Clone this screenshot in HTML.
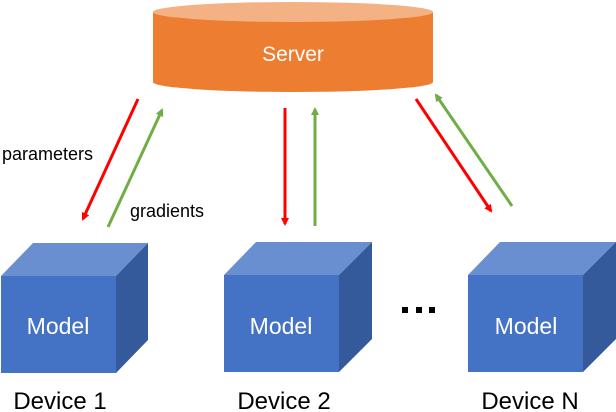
<!DOCTYPE html>
<html><head><meta charset="utf-8"><style>
html,body{margin:0;padding:0;background:#fff;}
svg{display:block;font-family:"Liberation Sans",sans-serif;}
</style></head><body>
<svg width="616" height="412" viewBox="0 0 616 412" xmlns="http://www.w3.org/2000/svg">
<defs>
<marker id="r" markerWidth="8" markerHeight="8" refX="6" refY="4" orient="auto" markerUnits="userSpaceOnUse" viewBox="0 0 8 8"><path d="M0,0 L8,4 L0,8 z" fill="#FF0000"/></marker>
<marker id="g" markerWidth="8" markerHeight="8" refX="6" refY="4" orient="auto" markerUnits="userSpaceOnUse" viewBox="0 0 8 8"><path d="M0,0 L8,4 L0,8 z" fill="#70AD47"/></marker>
</defs>
<path d="M153,12 L153,82 A140,10 0 0 0 433,82 L433,12 Z" fill="#ED7D31"/>
<ellipse cx="293" cy="12" rx="140" ry="10" fill="#F4B183"/>
<text x="293" y="61" text-anchor="middle" fill="#fff" font-size="21">Server</text>
<g stroke-width="3" fill="none">
<line x1="138" y1="99" x2="83" y2="219" stroke="#FF0000" marker-end="url(#r)"/>
<line x1="108" y1="227" x2="162" y2="110" stroke="#70AD47" marker-end="url(#g)"/>
<line x1="285" y1="108" x2="285" y2="224" stroke="#FF0000" marker-end="url(#r)"/>
<line x1="315" y1="226" x2="315" y2="109" stroke="#70AD47" marker-end="url(#g)"/>
<line x1="416" y1="99" x2="491" y2="211" stroke="#FF0000" marker-end="url(#r)"/>
<line x1="512" y1="206" x2="436" y2="95" stroke="#70AD47" marker-end="url(#g)"/>
</g>
<text x="2" y="160" font-size="18" fill="#000">parameters</text>
<text x="130" y="217" font-size="18" fill="#000">gradients</text>
<g>
<polygon points="1,276 33,243 148,243 116,276" fill="#6A8FD0"/>
<polygon points="116,276 148,243 148,340 116,373" fill="#345A9C"/>
<rect x="1" y="276" width="115" height="97" fill="#4472C4"/>
<text x="58" y="334" text-anchor="middle" fill="#fff" font-size="23">Model</text>
</g>
<g>
<polygon points="224,275 256,242 372,242 339,275" fill="#6A8FD0"/>
<polygon points="339,275 372,242 372,339 339,372" fill="#345A9C"/>
<rect x="224" y="275" width="115" height="97" fill="#4472C4"/>
<text x="281" y="334" text-anchor="middle" fill="#fff" font-size="23">Model</text>
</g>
<g>
<polygon points="468,275 500,242 616,242 583,275" fill="#6A8FD0"/>
<polygon points="583,275 616,242 616,339 583,372" fill="#345A9C"/>
<rect x="468" y="275" width="115" height="97" fill="#4472C4"/>
<text x="526" y="334" text-anchor="middle" fill="#fff" font-size="23">Model</text>
</g>
<rect x="402" y="307" width="6" height="6" fill="#000"/>
<rect x="416" y="307" width="6" height="6" fill="#000"/>
<rect x="429" y="307" width="6" height="6" fill="#000"/>
<text x="60" y="409" text-anchor="middle" font-size="24" fill="#000">Device 1</text>
<text x="284" y="409" text-anchor="middle" font-size="24" fill="#000">Device 2</text>
<text x="530" y="409" text-anchor="middle" font-size="24" fill="#000">Device N</text>
</svg>
</body></html>
